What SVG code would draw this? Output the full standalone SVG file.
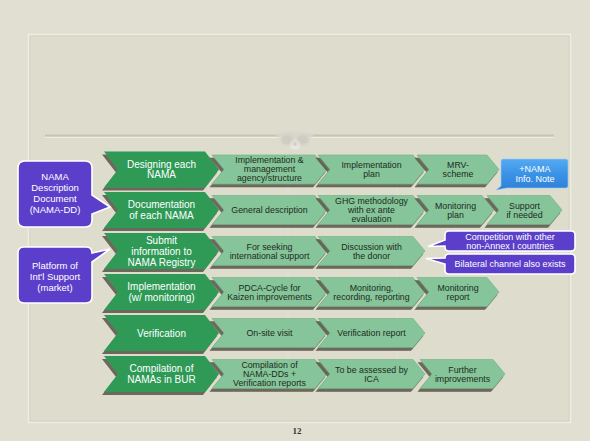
<svg xmlns="http://www.w3.org/2000/svg" width="590" height="441" viewBox="0 0 590 441">
  <defs>
    <filter id="shadow" x="-10%" y="-20%" width="120%" height="150%">
      <feDropShadow dx="-2" dy="3" stdDeviation="0.7" flood-color="#5a5246" flood-opacity="0.85"/>
    </filter>
    <filter id="soft" x="-20%" y="-40%" width="140%" height="180%">
      <feGaussianBlur stdDeviation="1"/>
    </filter>
    <linearGradient id="noteFill" x1="0" y1="0" x2="0" y2="1">
      <stop offset="0" stop-color="#55aaf2"/>
      <stop offset="0.5" stop-color="#3a92e6"/>
      <stop offset="1" stop-color="#2f80d8"/>
    </linearGradient>
  </defs>
  <style>
    .step { fill: #2f9a57; filter: url(#shadow); }
    .task { fill: #86c49a; stroke: #6fae83; stroke-width: 0.6; filter: url(#shadow); }
    .callout { fill: #5b3fca; stroke: #ffffff; stroke-width: 1.6; }
    .st { font-family: "Liberation Sans", Arial, sans-serif; font-size: 10px; fill: #ffffff; text-anchor: middle; }
    .tt { font-family: "Liberation Sans", Arial, sans-serif; font-size: 8.8px; fill: #1c2c20; text-anchor: middle; }
    .ct { font-family: "Liberation Sans", Arial, sans-serif; font-size: 9.5px; fill: #ffffff; text-anchor: middle; }
    .nt { font-family: "Liberation Sans", Arial, sans-serif; font-size: 9px; fill: #ffffff; text-anchor: middle; }
    .grid { stroke: #ffffff; stroke-opacity: 0.25; stroke-width: 0.8; fill: none; }
  </style>

  <!-- page background and frame -->
  <rect x="0" y="0" width="590" height="441" fill="#e0dfd2"/>
  <rect x="28.5" y="34.5" width="542" height="388" fill="#dddccd" stroke="#eeede4" stroke-width="1.5"/>
  <rect x="30" y="36" width="539" height="385" fill="none" stroke="#d2d1c2" stroke-width="0.8"/>

  <!-- title rule with ornament -->
  <line x1="45" y1="135.5" x2="554" y2="135.5" stroke="#c6c5b5" stroke-width="2"/>
  <line x1="45" y1="137.5" x2="554" y2="137.5" stroke="#f0efe7" stroke-width="1"/>
  <g id="ornament" filter="url(#soft)">
    <ellipse cx="295" cy="135.5" rx="19" ry="3.5" fill="#d8d5cc"/>
    <ellipse cx="287" cy="140" rx="6" ry="5" fill="#cfccc3"/>
    <ellipse cx="303" cy="140" rx="6" ry="5" fill="#cfccc3"/>
    <circle cx="295" cy="145" r="4.5" fill="#ecebe5"/>
    <circle cx="295" cy="144" r="2" fill="#c4c0b6"/>
  </g>

  <!-- faint table grid behind the flow -->
  <g id="grid">
    <line class="grid" x1="180" y1="152" x2="180" y2="392"/>
    <line class="grid" x1="288" y1="155" x2="288" y2="389"/>
    <line class="grid" x1="397" y1="155" x2="397" y2="389"/>
    <line class="grid" x1="508" y1="192" x2="508" y2="228"/>
  </g>

  <!-- process steps (left column) -->
  <g id="step-design">
    <polygon class="step" points="104,151.5 205,151.5 219,169.5 205,187.5 104,187.5 118,169.5"/>
    <text class="st" x="161.5" y="167.8">Designing each</text>
    <text class="st" x="161.5" y="178.3">NAMA</text>
  </g>
  <g id="step-document">
    <polygon class="step" points="104,192 205,192 219,210 205,228 104,228 118,210"/>
    <text class="st" x="161.5" y="208.3">Documentation</text>
    <text class="st" x="161.5" y="218.8">of each NAMA</text>
  </g>
  <g id="step-submit">
    <polygon class="step" points="104,233 205,233 219,251 205,269 104,269 118,251"/>
    <text class="st" x="161.5" y="243.5">Submit</text>
    <text class="st" x="161.5" y="254.5">information to</text>
    <text class="st" x="161.5" y="265.5">NAMA Registry</text>
  </g>
  <g id="step-implement">
    <polygon class="step" points="104,274 205,274 219,292 205,310 104,310 118,292"/>
    <text class="st" x="161.5" y="290.3">Implementation</text>
    <text class="st" x="161.5" y="300.8">(w/ monitoring)</text>
  </g>
  <g id="step-verify">
    <polygon class="step" points="104,315 205,315 219,333 205,351 104,351 118,333"/>
    <text class="st" x="161.5" y="336.5">Verification</text>
  </g>
  <g id="step-compile">
    <polygon class="step" points="104,356 205,356 219,374 205,392 104,392 118,374"/>
    <text class="st" x="161.5" y="372.3">Compilation of</text>
    <text class="st" x="161.5" y="382.8">NAMAs in BUR</text>
  </g>

  <!-- row 1 -->
  <g id="task-agency">
    <polygon class="task" points="212,155 315,155 327,169.5 315,184 212,184 224,169.5"/>
    <text class="tt" x="269.5" y="163.3">Implementation &amp;</text>
    <text class="tt" x="269.5" y="172.3">management</text>
    <text class="tt" x="269.5" y="181.3">agency/structure</text>
  </g>
  <g id="task-impl-plan">
    <polygon class="task" points="318,155 413,155 425,169.5 413,184 318,184 330,169.5"/>
    <text class="tt" x="371.5" y="167.8">Implementation</text>
    <text class="tt" x="371.5" y="176.8">plan</text>
  </g>
  <g id="task-mrv">
    <polygon class="task" points="417,155 487,155 499,169.5 487,184 417,184 429,169.5"/>
    <text class="tt" x="458" y="167.8">MRV-</text>
    <text class="tt" x="458" y="176.8">scheme</text>
  </g>
  <g id="note-nama-info">
    <path d="M503,159 H566 Q568,159 568,161 V186 Q568,188 566,188 H507 L496,190 L501,186 V161 Q501,159 503,159 Z" fill="url(#noteFill)" stroke="#9fcdf5" stroke-width="0.6"/>
    <text class="nt" x="535" y="172">+NAMA</text>
    <text class="nt" x="535" y="182">Info. Note</text>
  </g>

  <!-- row 2 -->
  <g id="task-general">
    <polygon class="task" points="212,195.5 315,195.5 327,210 315,224.5 212,224.5 224,210"/>
    <text class="tt" x="269.5" y="213">General description</text>
  </g>
  <g id="task-ghg">
    <polygon class="task" points="318,195.5 413,195.5 425,210 413,224.5 318,224.5 330,210"/>
    <text class="tt" x="371.5" y="204">GHG methodology</text>
    <text class="tt" x="371.5" y="213">with ex ante</text>
    <text class="tt" x="371.5" y="222">evaluation</text>
  </g>
  <g id="task-mon-plan">
    <polygon class="task" points="417,195.5 482,195.5 494,210 482,224.5 417,224.5 429,210"/>
    <text class="tt" x="455.5" y="208.5">Monitoring</text>
    <text class="tt" x="455.5" y="217.5">plan</text>
  </g>
  <g id="task-support">
    <polygon class="task" points="487,195.5 550,195.5 562,210 550,224.5 487,224.5 499,210"/>
    <text class="tt" x="524.5" y="208.5">Support</text>
    <text class="tt" x="524.5" y="217.5">if needed</text>
  </g>

  <!-- row 3 -->
  <g id="task-seeking">
    <polygon class="task" points="212,236.5 315,236.5 327,251 315,265.5 212,265.5 224,251"/>
    <text class="tt" x="269.5" y="249.5">For seeking</text>
    <text class="tt" x="269.5" y="258.5">international support</text>
  </g>
  <g id="task-donor">
    <polygon class="task" points="318,236.5 413,236.5 425,251 413,265.5 318,265.5 330,251"/>
    <text class="tt" x="371.5" y="249.5">Discussion with</text>
    <text class="tt" x="371.5" y="258.5">the donor</text>
  </g>

  <!-- row 4 -->
  <g id="task-pdca">
    <polygon class="task" points="212,277.5 315,277.5 327,292 315,306.5 212,306.5 224,292"/>
    <text class="tt" x="269.5" y="290.5">PDCA-Cycle for</text>
    <text class="tt" x="269.5" y="299.5">Kaizen improvements</text>
  </g>
  <g id="task-recording">
    <polygon class="task" points="318,277.5 413,277.5 425,292 413,306.5 318,306.5 330,292"/>
    <text class="tt" x="371.5" y="290.5">Monitoring,</text>
    <text class="tt" x="371.5" y="299.5">recording, reporting</text>
  </g>
  <g id="task-mon-report">
    <polygon class="task" points="417,277.5 487,277.5 499,292 487,306.5 417,306.5 429,292"/>
    <text class="tt" x="458" y="290.5">Monitoring</text>
    <text class="tt" x="458" y="299.5">report</text>
  </g>

  <!-- row 5 -->
  <g id="task-onsite">
    <polygon class="task" points="212,318.5 315,318.5 327,333 315,347.5 212,347.5 224,333"/>
    <text class="tt" x="269.5" y="336">On-site visit</text>
  </g>
  <g id="task-ver-report">
    <polygon class="task" points="318,318.5 413,318.5 425,333 413,347.5 318,347.5 330,333"/>
    <text class="tt" x="371.5" y="336">Verification report</text>
  </g>

  <!-- row 6 -->
  <g id="task-compile-dd">
    <polygon class="task" points="212,359.5 315,359.5 327,374 315,388.5 212,388.5 224,374"/>
    <text class="tt" x="269.5" y="368">Compilation of</text>
    <text class="tt" x="269.5" y="377">NAMA-DDs +</text>
    <text class="tt" x="269.5" y="386">Verification reports</text>
  </g>
  <g id="task-ica">
    <polygon class="task" points="318,359.5 413,359.5 425,374 413,388.5 318,388.5 330,374"/>
    <text class="tt" x="371.5" y="372.5">To be assessed by</text>
    <text class="tt" x="371.5" y="381.5">ICA</text>
  </g>
  <g id="task-further">
    <polygon class="task" points="420,359.5 493,359.5 505,374 493,388.5 420,388.5 432,374"/>
    <text class="tt" x="462.5" y="372.5">Further</text>
    <text class="tt" x="462.5" y="381.5">improvements</text>
  </g>

  <!-- callouts: the pointer of each callout serves as its connector -->
  <g id="connectors">
    <g id="callout-nama-dd">
      <path class="callout" d="M25,161 H85 Q92,161 92,168 V195 L110,207 L92,214 V220 Q92,227 85,227 H25 Q18,227 18,220 V168 Q18,161 25,161 Z"/>
      <text class="ct" x="55" y="180.3">NAMA</text>
      <text class="ct" x="55" y="191.1">Description</text>
      <text class="ct" x="55" y="201.9">Document</text>
      <text class="ct" x="55" y="212.7">(NAMA-DD)</text>
    </g>
    <g id="callout-platform">
      <path class="callout" d="M24,247 H86 Q92,247 92,253 L110,249 L92,262 V297 Q92,303 86,303 H24 Q18,303 18,297 V253 Q18,247 24,247 Z"/>
      <text class="ct" x="55" y="268.5">Platform of</text>
      <text class="ct" x="55" y="279.5">Int'l Support</text>
      <text class="ct" x="55" y="290.5">(market)</text>
    </g>
    <g id="callout-competition">
      <path class="callout" d="M449,231 H571 Q575,231 575,235 V247 Q575,251 571,251 H449 Q445,251 445,247 V246 L428,246.5 L445,240 V235 Q445,231 449,231 Z"/>
      <text class="nt" x="510" y="240">Competition with other</text>
      <text class="nt" x="510" y="249">non-Annex I countries</text>
    </g>
    <g id="callout-bilateral">
      <path class="callout" d="M449,254 H571 Q575,254 575,258 V270 Q575,274 571,274 H449 Q445,274 445,270 V264 L426,258.5 L445,258 Q445,254 449,254 Z"/>
      <text class="nt" x="510" y="266.5">Bilateral channel also exists</text>
    </g>
  </g>

  <!-- page number -->
  <text x="297" y="434" font-family="'Liberation Serif', 'Times New Roman', serif" font-size="9" font-weight="bold" fill="#333333" text-anchor="middle">12</text>
</svg>
